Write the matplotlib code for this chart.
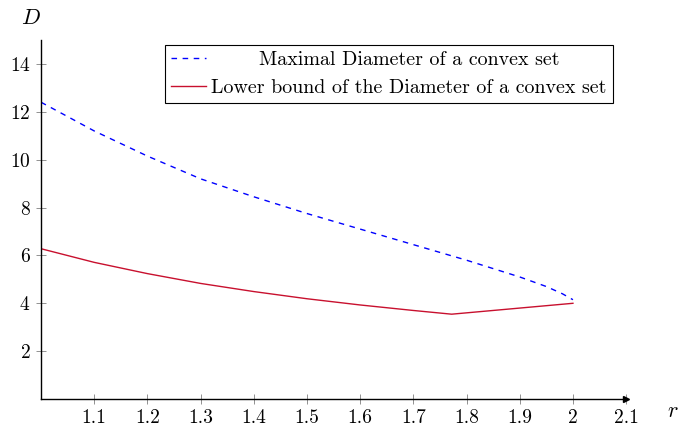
import matplotlib
matplotlib.use("Agg")
import matplotlib.pyplot as plt

plt.rcParams['font.family'] = 'serif'
plt.rcParams['font.serif'] = ['cmr10']
plt.rcParams['mathtext.fontset'] = 'cm'
plt.rcParams['axes.unicode_minus'] = False
plt.rcParams['axes.formatter.use_mathtext'] = True

# Valeurs
r_max = [1.0, 1.1, 1.2, 1.3, 1.4, 1.5, 1.6, 1.7, 1.8, 1.9, 1.95, 1.98, 2.0]
d_max = [12.4, 11.2, 10.15, 9.2, 8.45, 7.75, 7.1, 6.45, 5.8, 5.1, 4.7, 4.4, 4.15]

r_low = [1.0, 1.1, 1.2, 1.3, 1.4, 1.5, 1.6, 1.7, 1.772, 2.0]
d_low = [6.28, 5.71, 5.24, 4.83, 4.49, 4.19, 3.93, 3.70, 3.545, 4.0]

x_ticks = [1.1, 1.2, 1.3, 1.4, 1.5, 1.6, 1.7, 1.8, 1.9, 2.0, 2.1]
x_labels = ["1.1", "1.2", "1.3", "1.4", "1.5", "1.6", "1.7", "1.8", "1.9", "2", "2.1"]
y_ticks = [2, 4, 6, 8, 10, 12, 14]

fig = plt.figure(figsize=(6.78, 4.30), dpi=100)
ax = fig.add_axes([0.0605, 0.072, 0.863, 0.835])

ax.plot(r_max, d_max, color="#0000ff", linestyle=(0, (4, 4)), linewidth=1.0,
        label="Maximal Diameter of a convex set")
ax.plot(r_low, d_low, color="#c8102e", linewidth=1.0,
        label="Lower bound of the Diameter of a convex set")

ax.set_xlim(1.0, 2.1)
ax.set_ylim(0, 15)
ax.spines['top'].set_visible(False)
ax.spines['right'].set_visible(False)
for s in ['left', 'bottom']:
    ax.spines[s].set_linewidth(1.0)

# fleches des axes
ax.plot(1, 0, marker=">", color="k", markersize=4, transform=ax.get_yaxis_transform(), clip_on=False)
ax.plot(0, 1, marker="^", color="k", markersize=4, transform=ax.get_xaxis_transform(), clip_on=False)

ax.set_xticks(x_ticks)
ax.set_xticklabels(x_labels)
ax.set_yticks(y_ticks)
ax.tick_params(direction="inout", length=7, width=0.6, color="#808080", labelsize=14, pad=4)

ax.text(-0.035, 1.06, "$D$", transform=ax.transAxes, fontsize=16, ha="left", va="center")
ax.text(1.08, -0.035, "$r$", transform=ax.transAxes, fontsize=16, ha="center", va="center")

leg = ax.legend(loc="upper right", bbox_to_anchor=(0.977, 0.986), fontsize=14.4,
                fancybox=False, edgecolor="black", framealpha=1, handlelength=1.75,
                handletextpad=0.25, borderpad=0.3, labelspacing=0.5, borderaxespad=0)
leg.get_frame().set_linewidth(0.8)

# centrer le premier texte de la legende
fig.canvas.draw()
renderer = fig.canvas.get_renderer()
texts = leg.get_texts()
w = max(t.get_window_extent(renderer).width for t in texts)
for t in texts:
    tw = t.get_window_extent(renderer).width
    t.set_position(((w - tw) / 2, 0))

fig.savefig("out.png", dpi=100)
